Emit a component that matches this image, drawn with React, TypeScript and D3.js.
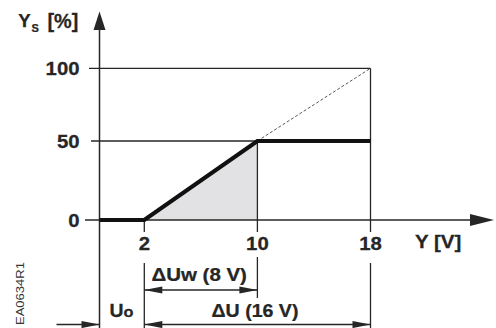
import React from "react";
import * as d3 from "d3";

// ---- data ----
const xTicks = [2, 10, 18];
const yTicks = [0, 50, 100];
const curveX = [0, 2, 10, 18];
const curveY = [0, 0, 50, 50];
const idealX = [10, 18];
const idealY = [50, 100];
const shadeX = [2, 10, 10];
const shadeY = [0, 0, 50];
const dimFrom = [2, 2, 0];
const dimTo = [10, 18, 2];
const dimLabels = ["\u0394Uw (8 V)", "\u0394U (16 V)", "U"];
const dimLabelSub = "o";
const yTitle = "Y";
const yTitleSub = "S";
const yTitleUnit = "[%]";
const xTitle = "Y [V]";
const docCode = "EA0634R1";

const W = 496;
const H = 328;
const FONT = "'Liberation Sans', Arial, Helvetica, sans-serif";
const INK = "#262626";
const SX = 1.13;

const x = d3.scaleLinear().domain([0, 2, 18]).range([99.5, 144.3, 370.5]);
const y = d3.scaleLinear().domain([0, 50, 100]).range([220, 141, 68.3]);

function T({ x: tx, y: ty, anchor = "start", size = 18, sx = SX, weight = 700, children }: any) {
  return (
    <g transform={`translate(${tx},${ty}) scale(${sx},1)`}>
      <text
        x={0}
        y={0}
        textAnchor={anchor}
        fontFamily={FONT}
        fontWeight={weight}
        fontSize={size}
        fill={INK}
        stroke={INK}
        strokeWidth={0.25}
      >
        {children}
      </text>
    </g>
  );
}

function Arrow({ tx, ty, dir, len, hw }: any) {
  let pts: number[][];
  if (dir === "r") pts = [[tx, ty], [tx - len, ty - hw], [tx - len, ty + hw]];
  else if (dir === "l") pts = [[tx, ty], [tx + len, ty - hw], [tx + len, ty + hw]];
  else pts = [[tx, ty], [tx - hw, ty + len], [tx + hw, ty + len]];
  return <polygon points={pts.map((p) => p.join(",")).join(" ")} fill={INK} />;
}

export default function App() {
  const curvePath = d3
    .line<number>()
    .x((d) => x(curveX[d]))
    .y((d) => y(curveY[d]))(curveX.map((_, i) => i)) as string;
  const idealPath = d3.line<number>().x((d) => x(idealX[d])).y((d) => y(idealY[d]))([0, 1]) as string;
  const shadePath =
    (d3.line<number>().x((d) => x(shadeX[d])).y((d) => y(shadeY[d]))([0, 1, 2]) as string) + "Z";

  const axisX0 = x(0);
  const axisY0 = y(0);
  const lw = 1.3;
  const tickBottom = 232;

  const dimY = [290, 324.5, 324.5];

  return (
    <svg
      width={W}
      height={H}
      style={{ position: "absolute", left: 0, top: 0, background: "#fff" }}
    >
      <rect width={W} height={H} fill="#fff" />
      <path d={shadePath} fill="#e2e2e4" stroke="none" />

      <line x1={89} x2={x(18)} y1={y(100)} y2={y(100)} stroke={INK} strokeWidth={lw} />
      <line x1={91} x2={x(18)} y1={y(50)} y2={y(50)} stroke={INK} strokeWidth={lw} />

      <line x1={x(2)} x2={x(2)} y1={axisY0} y2={tickBottom} stroke={INK} strokeWidth={lw} />
      <line x1={x(10)} x2={x(10)} y1={y(50)} y2={tickBottom} stroke={INK} strokeWidth={lw} />
      <line x1={x(18)} x2={x(18)} y1={y(100)} y2={tickBottom} stroke={INK} strokeWidth={lw} />

      <line x1={x(2)} x2={x(2)} y1={263} y2={H} stroke={INK} strokeWidth={lw} />
      <line x1={x(10)} x2={x(10)} y1={257} y2={298} stroke={INK} strokeWidth={lw} />
      <line x1={x(18)} x2={x(18)} y1={263} y2={H} stroke={INK} strokeWidth={lw} />

      <path d={idealPath} fill="none" stroke="#444" strokeWidth={0.9} strokeDasharray="3,2" />

      <line x1={axisX0} x2={axisX0} y1={20} y2={H} stroke={INK} strokeWidth={1.5} />
      <Arrow tx={axisX0} ty={11.5} dir="u" len={18.5} hw={6} />
      <line x1={85} x2={475} y1={axisY0} y2={axisY0} stroke={INK} strokeWidth={1.5} />
      <Arrow tx={494} ty={axisY0} dir="r" len={24} hw={6} />

      <path d={curvePath} fill="none" stroke="#111" strokeWidth={4.2} strokeLinejoin="miter" />

      {yTicks.map((v) => (
        <T key={v} x={79.5} y={y(v) + 6.6} anchor="end">
          {String(v)}
        </T>
      ))}
      {xTicks.map((v) => (
        <T key={v} x={x(v)} y={250} anchor="middle">
          {String(v)}
        </T>
      ))}

      <T x={18.3} y={26.8} size={18.6} sx={1.0}>{yTitle}</T>
      <T x={31.4} y={32.4} size={10} sx={1.1}>{yTitleSub}</T>
      <T x={47.5} y={28} size={19.5} sx={1.02}>{yTitleUnit}</T>
      <T x={415} y={247.5} size={19} sx={1.08}>{xTitle}</T>

      {dimFrom.map((f, i) => {
        const yy = dimY[i];
        const a = x(f);
        const b = x(dimTo[i]);
        if (i === 2) {
          return (
            <g key={i}>
              <line x1={56.5} x2={a} y1={yy} y2={yy} stroke={INK} strokeWidth={lw} />
              <Arrow tx={a} ty={yy} dir="r" len={18} hw={3.6} />
            </g>
          );
        }
        return (
          <g key={i}>
            <line x1={a} x2={b} y1={yy} y2={yy} stroke={INK} strokeWidth={lw} />
            <Arrow tx={a} ty={yy} dir="l" len={18} hw={3.6} />
            <Arrow tx={b} ty={yy} dir="r" len={18} hw={3.6} />
          </g>
        );
      })}
      <T x={151.5} y={280.8} size={17.8} sx={1.15}>{dimLabels[0]}</T>
      <T x={211.5} y={316.7} size={17.8} sx={1.1}>{dimLabels[1]}</T>
      <T x={(x(0) + x(2)) / 2 - 0.5} y={316.7} anchor="middle" size={18.5} sx={1.05}>
        {dimLabels[2]}
        <tspan fontSize={15.5}>{dimLabelSub}</tspan>
      </T>

      <g transform="translate(24,325) rotate(-90)">
        <text
          x={0}
          y={0}
          fontFamily={FONT}
          fontSize={10}
          fill="#333"
          textLength={63}
          lengthAdjust="spacingAndGlyphs"
        >
          {docCode}
        </text>
      </g>
    </svg>
  );
}
